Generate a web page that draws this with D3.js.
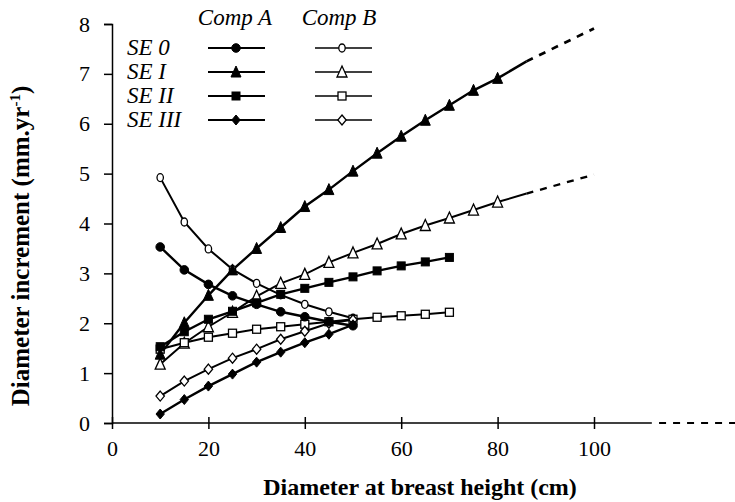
<!DOCTYPE html>
<html>
<head>
<meta charset="utf-8">
<script src="https://cdn.jsdelivr.net/npm/d3@7"></script>
<style>
  body { margin: 0; background: #fff; }
  svg text { font-family: "Liberation Serif", "Times New Roman", serif; fill: #000; }
</style>
</head>
<body>
<div id="chart"></div>
<script>
// dbh classes (cm)
var dbh = [10, 15, 20, 25, 30, 35, 40, 45, 50, 55, 60, 65, 70, 75, 80];

// Comp A (filled) / Comp B (open) diameter increments, mm/yr
var se0A = [3.53, 3.07, 2.78, 2.55, 2.38, 2.23, 2.13, 2.03, 1.95];
var se0B = [4.92, 4.03, 3.49, 3.08, 2.80, 2.57, 2.38, 2.23, 2.10];
var se1A = [1.38, 2.01, 2.56, 3.07, 3.50, 3.92, 4.34, 4.68, 5.05, 5.41, 5.75, 6.07, 6.37, 6.67, 6.91];
var se1B = [1.18, 1.60, 1.93, 2.22, 2.54, 2.80, 2.98, 3.22, 3.41, 3.59, 3.79, 3.96, 4.11, 4.27, 4.43];
var se2A = [1.53, 1.83, 2.08, 2.24, 2.41, 2.58, 2.70, 2.82, 2.93, 3.05, 3.15, 3.23, 3.32];
var se2B = [1.48, 1.61, 1.72, 1.80, 1.88, 1.93, 1.98, 2.03, 2.08, 2.12, 2.15, 2.18, 2.22];
var se3A = [0.18, 0.47, 0.74, 0.98, 1.22, 1.42, 1.61, 1.78, 1.97];
var se3B = [0.54, 0.84, 1.08, 1.30, 1.48, 1.68, 1.84, 2.00, 2.07];

// SE I curves carried past the data: solid to 86 cm, then dashed to 100 cm
var extX = [80, 86, 100];
var se1AExt = [6.91, 7.25, 7.91];
var se1BExt = [4.43, 4.60, 4.98];

var xTicks = [0, 20, 40, 60, 80, 100];
var yTicks = [0, 1, 2, 3, 4, 5, 6, 7, 8];
var legendRows = ["SE 0", "SE I", "SE II", "SE III"];

var svgWidth = 735, svgHeight = 502;

var svg = d3.select("#chart").append("svg")
  .attr("width", svgWidth)
  .attr("height", svgHeight);

var x = d3.scaleLinear().domain([0, 100]).range([112, 594]);
var y = d3.scaleLinear().domain([0, 8]).range([423, 24]);

// x axis: solid part then dashed tail
svg.append("line")
  .attr("x1", x(0)).attr("x2", x(112))
  .attr("y1", y(0)).attr("y2", y(0))
  .attr("stroke", "#000").attr("stroke-width", 1.5);
svg.append("line")
  .attr("x1", x(113.5)).attr("x2", 735)
  .attr("y1", y(0)).attr("y2", y(0))
  .attr("stroke", "#000").attr("stroke-width", 1.8)
  .attr("stroke-dasharray", "7,7");

var xAxis = svg.append("g")
  .attr("transform", "translate(0," + y(0) + ")")
  .call(d3.axisBottom(x).tickValues(xTicks).tickSize(6).tickPadding(11));
xAxis.select(".domain").remove();
xAxis.selectAll(".tick line").attr("y1", -6).attr("stroke-width", 1.5);
xAxis.selectAll(".tick text")
  .style("font-size", "22px").style("font-family", "Liberation Serif");

var yAxis = svg.append("g")
  .attr("transform", "translate(" + x(0) + ",0)")
  .call(d3.axisLeft(y).tickValues(yTicks).tickSize(8).tickPadding(14));
yAxis.select(".domain").attr("stroke-width", 1.5);
yAxis.selectAll(".tick line").attr("stroke-width", 1.5);
yAxis.selectAll(".tick text")
  .style("font-size", "22px").style("font-family", "Liberation Serif");

// axis titles
svg.append("text")
  .attr("x", 420).attr("y", 495)
  .attr("text-anchor", "middle")
  .style("font-size", "24px").style("font-weight", "bold")
  .text("Diameter at breast height (cm)");

var yTitle = svg.append("text")
  .attr("transform", "translate(29," + 246 + ") rotate(-90)")
  .attr("text-anchor", "middle")
  .style("font-size", "25px").style("font-weight", "bold");
yTitle.append("tspan").text("Diameter increment (mm.yr");
yTitle.append("tspan").attr("dy", -9).style("font-size", "15px").text("-1");
yTitle.append("tspan").attr("dy", 9).text(")");

// marker shapes
function drawMarker(g, shape, filled, cx, cy) {
  var fill = filled ? "#000" : "#fff";
  var sw = filled ? 1 : 1.3;
  if (shape == "circle") {
    if (filled) {
      g.append("circle").attr("cx", cx).attr("cy", cy).attr("r", 4.3)
        .attr("fill", fill).attr("stroke", "#000").attr("stroke-width", sw);
    } else {
      g.append("ellipse").attr("cx", cx).attr("cy", cy).attr("rx", 3.2).attr("ry", 4)
        .attr("fill", fill).attr("stroke", "#000").attr("stroke-width", sw);
    }
  } else if (shape == "triangle") {
    var s = 5;
    g.append("path")
      .attr("d", "M" + cx + "," + (cy - s - 1) + "L" + (cx + s) + "," + (cy + s) + "L" + (cx - s) + "," + (cy + s) + "Z")
      .attr("fill", fill).attr("stroke", "#000").attr("stroke-width", sw);
  } else if (shape == "square") {
    var h = 4;
    g.append("rect").attr("x", cx - h).attr("y", cy - h).attr("width", 2 * h).attr("height", 2 * h)
      .attr("fill", fill).attr("stroke", "#000").attr("stroke-width", sw);
  } else {
    var d = 5;
    g.append("path")
      .attr("d", "M" + cx + "," + (cy - d) + "L" + (cx + d - 0.8) + "," + cy + "L" + cx + "," + (cy + d) + "L" + (cx - d + 0.8) + "," + cy + "Z")
      .attr("fill", fill).attr("stroke", "#000").attr("stroke-width", sw);
  }
}

var series = [
  { vals: se0B, shape: "circle", filled: false },
  { vals: se1B, shape: "triangle", filled: false },
  { vals: se2B, shape: "square", filled: false },
  { vals: se3B, shape: "diamond", filled: false },
  { vals: se0A, shape: "circle", filled: true },
  { vals: se1A, shape: "triangle", filled: true },
  { vals: se2A, shape: "square", filled: true },
  { vals: se3A, shape: "diamond", filled: true }
];

var line = d3.line().x(function(d) { return x(d[0]); }).y(function(d) { return y(d[1]); });

// extensions of SE I
[[se1AExt, 2.4], [se1BExt, 2]].forEach(function(e) {
  var pts = extX.map(function(v, i) { return [v, e[0][i]]; });
  svg.append("path").datum(pts.slice(0, 2)).attr("d", line)
    .attr("fill", "none").attr("stroke", "#000").attr("stroke-width", e[1]);
  svg.append("path").datum(pts.slice(1)).attr("d", line)
    .attr("fill", "none").attr("stroke", "#000").attr("stroke-width", e[1] + 0.3)
    .attr("stroke-dasharray", "7,7");
});

var seriesGroup = svg.append("g");
series.forEach(function(s) {
  var pts = s.vals.map(function(v, i) { return [dbh[i], v]; });
  seriesGroup.append("path").datum(pts).attr("d", line)
    .attr("fill", "none").attr("stroke", "#000")
    .attr("stroke-width", s.filled ? 2.4 : 2);
});
series.forEach(function(s) {
  var g = seriesGroup.append("g");
  s.vals.forEach(function(v, i) {
    drawMarker(g, s.shape, s.filled, x(dbh[i]), y(v));
  });
});

// legend
var legend = svg.append("g");
legend.append("text").attr("x", 235).attr("y", 25).attr("text-anchor", "middle")
  .style("font-size", "23px").style("font-style", "italic").text("Comp A");
legend.append("text").attr("x", 339).attr("y", 25).attr("text-anchor", "middle")
  .style("font-size", "23px").style("font-style", "italic").text("Comp B");

var shapes = ["circle", "triangle", "square", "diamond"];
var rowY = [48, 72, 96, 120];
legendRows.forEach(function(lbl, i) {
  legend.append("text").attr("x", 127).attr("y", rowY[i] + 7)
    .style("font-size", "23px").style("font-style", "italic").text(lbl);
  legend.append("line").attr("x1", 208).attr("x2", 265).attr("y1", rowY[i]).attr("y2", rowY[i])
    .attr("stroke", "#000").attr("stroke-width", 2);
  drawMarker(legend, shapes[i], true, 236, rowY[i]);
  legend.append("line").attr("x1", 315).attr("x2", 372).attr("y1", rowY[i]).attr("y2", rowY[i])
    .attr("stroke", "#000").attr("stroke-width", 1.6);
  drawMarker(legend, shapes[i], false, 342, rowY[i]);
});
</script>
</body>
</html>
